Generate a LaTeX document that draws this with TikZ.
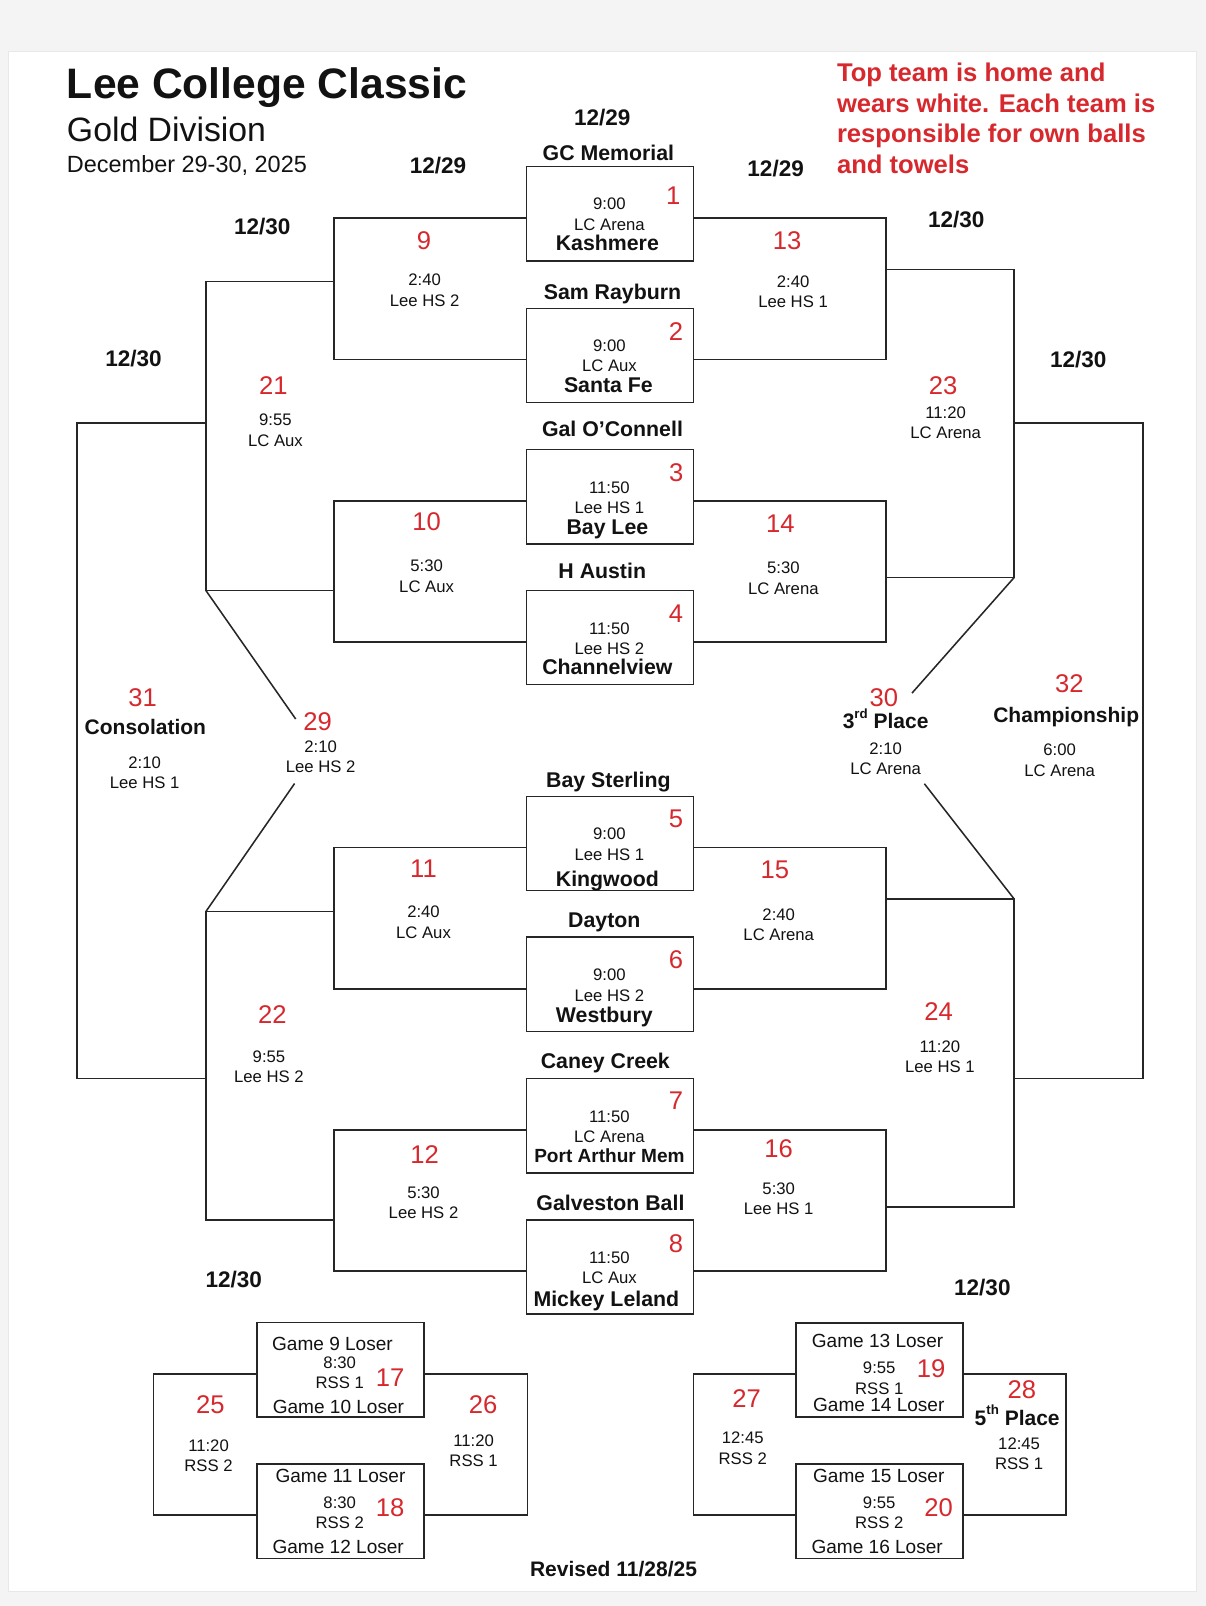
\documentclass[tikz,border=0pt]{standalone}
\usepackage{fontspec}
\setmainfont{Liberation Sans}
\definecolor{rd}{RGB}{214,40,45}
\definecolor{ln}{RGB}{38,38,38}
\definecolor{ink}{RGB}{18,18,18}
\definecolor{bgc}{RGB}{244,244,244}
\newcommand{\fs}[1]{\fontsize{#1}{#1}\selectfont}
\tikzset{
  tx/.style={inner sep=0pt,outer sep=0pt,text depth=0pt,text=ink},
  lbl/.style={tx,font=\fs{16.3},text height=11.67pt},
  team/.style={tx,font=\bfseries\fs{20.8},text height=14.9pt},
  teamsm/.style={tx,font=\bfseries\fs{18.6},text height=13.3pt},
  num/.style={tx,font=\fs{25},text height=17.9pt,text=rd},
  dlab/.style={tx,font=\bfseries\fs{22},text height=15.75pt},
  loser/.style={tx,font=\fs{18.6},text height=13.3pt},
  ttl/.style={tx,font=\bfseries\fs{20.5},text height=14.7pt},
  note/.style={inner sep=0pt,anchor=base west,font=\bfseries\fs{25},text=rd},
  gbox/.style={draw=ln,line width=1.5pt,minimum width=163pt,minimum height=92pt,inner sep=0pt},
  br/.style={draw=ln,line width=1.5pt,line join=miter},
}
\begin{document}
\begin{tikzpicture}[x=1pt,y=-1pt]
\path[use as bounding box,fill=bgc] (0,0) rectangle (1177,1568);
\fill[white] (8,50.4) rectangle (1168,1553.5);
\draw[gray!18,line width=0.6pt] (8,50.4) rectangle (1168,1553.5);

% Header
\node[tx,anchor=base west,font=\bfseries\fs{41.6}] (title) at (65.4,96.6) {Lee College Classic};
\node[tx,anchor=base west,font=\fs{33}] (div) at (65.4,138.3) {Gold Division};
\node[tx,anchor=base west,font=\fs{22.9}] (dates) at (65.4,168.5) {December 29-30, 2025};
\node[note] (n1) at (817,79.7) {Top team is home and};
\node[note] (n2) at (817,109.6) {wears white. Each team is};
\node[note] (n3) at (817,139.5) {responsible for own balls};
\node[note] (n4) at (817,169.4) {and towels};

% Date labels
\node[dlab] (d1) at (588,114.5) {12/29};
\node[dlab] (d2) at (427.7,162) {12/29};
\node[dlab] (d3) at (757.3,164.3) {12/29};
\node[dlab] (d4) at (256,221) {12/30};
\node[dlab] (d5) at (933.6,214.7) {12/30};
\node[dlab] (d6) at (130.4,349.8) {12/30};
\node[dlab] (d7) at (1052.8,350.7) {12/30};
\node[dlab] (d8) at (228.2,1249.3) {12/30};
\node[dlab] (d9) at (959.1,1257.4) {12/30};

% First-round boxes
\node[gbox] (b1) at (595.5,208.7) {};
\node[gbox] (b2) at (595.5,347) {};
\node[gbox] (b3) at (595.5,485) {};
\node[gbox] (b4) at (595.5,622.5) {};
\node[gbox] (b5) at (595.5,823.6) {};
\node[gbox] (b6) at (595.5,961) {};
\node[gbox] (b7) at (595.5,1099) {};
\node[gbox] (b8) at (595.5,1237) {};

% Team names above boxes
\node[team] (h1) at (594,149.6) {GC Memorial};
\node[team] (h2) at (598,284.7) {Sam Rayburn};
\node[team] (h3) at (598,419) {Gal O’Connell};
\node[team] (h4) at (588,557) {H Austin};
\node[team] (h5) at (594,761.3) {Bay Sterling};
\node[team] (h6) at (590,897.9) {Dayton};
\node[team] (h7) at (591,1036.2) {Caney Creek};
\node[team] (h8) at (596,1174.4) {Galveston Ball};

% Box contents
\node[lbl] (t1) at (595,199.1) {9:00};
\node[lbl] (v1) at (595,219.6) {LC Arena};
\node[team] (k1) at (593,237.5) {Kashmere};
\node[num] (m1) at (657.3,190.3) {1};
\node[lbl] (t2) at (595,337) {9:00};
\node[lbl] (v2) at (595,357) {LC Aux};
\node[team] (k2) at (594,376) {Santa Fe};
\node[num] (m2) at (659.9,323.7) {2};
\node[lbl] (t3) at (595,475.6) {11:50};
\node[lbl] (v3) at (595,495.1) {Lee HS 1};
\node[team] (k3) at (593,514) {Bay Lee};
\node[num] (m3) at (660.3,461) {3};
\node[lbl] (t4) at (595,613.2) {11:50};
\node[lbl] (v4) at (595,632.8) {Lee HS 2};
\node[team] (k4) at (593,650.7) {Channelview};
\node[num] (m4) at (660,598.6) {4};
\node[lbl] (t5) at (595,814) {9:00};
\node[lbl] (v5) at (595,834.5) {Lee HS 1};
\node[team] (k5) at (593,857.6) {Kingwood};
\node[num] (m5) at (659.9,798.7) {5};
\node[lbl] (t6) at (595,951.6) {9:00};
\node[lbl] (v6) at (595,971.8) {Lee HS 2};
\node[team] (k6) at (590,990.6) {Westbury};
\node[num] (m6) at (660,937) {6};
\node[lbl] (t7) at (595,1089.9) {11:50};
\node[lbl] (v7) at (595,1110) {LC Arena};
\node[teamsm] (k7) at (595,1128.3) {Port Arthur Mem};
\node[num] (m7) at (660,1074.2) {7};
\node[lbl] (t8) at (595,1228.1) {11:50};
\node[lbl] (v8) at (595,1247.6) {LC Aux};
\node[team] (k8) at (592,1268) {Mickey Leland};
\node[num] (m8) at (660,1213.5) {8};

% Bracket coordinates (left)
\coordinate (L9t) at (326,212.7);  \coordinate (L9b) at (326,351);
\coordinate (L10t) at (326,489);   \coordinate (L10b) at (326,627);
\coordinate (L11t) at (326,827.6); \coordinate (L11b) at (326,965.6);
\coordinate (L12t) at (326,1103);  \coordinate (L12b) at (326,1241);
\coordinate (L9m) at (326,275);    \coordinate (L10m) at (326,576.5);
\coordinate (L11m) at (326,890);   \coordinate (L12m) at (326,1191);
\coordinate (L21t) at (201,275);   \coordinate (L21b) at (201,576.5);
\coordinate (L22t) at (201,890);   \coordinate (L22b) at (201,1191);
\coordinate (L21m) at (201,413);   \coordinate (L22m) at (201,1053);
\coordinate (L31t) at (75,413);    \coordinate (L31b) at (75,1053);
\coordinate (L29a) at (288.7,702); \coordinate (L29b) at (287.6,765);
% (right)
\coordinate (R13t) at (865,212.7); \coordinate (R13b) at (865,351);
\coordinate (R14t) at (865,489);   \coordinate (R14b) at (865,627);
\coordinate (R15t) at (865,827.6); \coordinate (R15b) at (865,965.6);
\coordinate (R16t) at (865,1103);  \coordinate (R16b) at (865,1241);
\coordinate (R13m) at (865,263);   \coordinate (R14m) at (865,564);
\coordinate (R15m) at (865,877.5); \coordinate (R16m) at (865,1178.5);
\coordinate (R23t) at (990,263);   \coordinate (R23b) at (990,564);
\coordinate (R24t) at (990,877.5); \coordinate (R24b) at (990,1178.5);
\coordinate (R23m) at (990,413);   \coordinate (R24m) at (990,1053);
\coordinate (R32t) at (1116,413);  \coordinate (R32b) at (1116,1053);
\coordinate (R30a) at (890.4,676.7); \coordinate (R30b) at (902.5,765.2);

% Left brackets
\draw[br] (b1.west |- L9t) -- (L9t) -- (L9b) -- (b2.west |- L9b);
\draw[br] (b3.west |- L10t) -- (L10t) -- (L10b) -- (b4.west |- L10b);
\draw[br] (b5.west |- L11t) -- (L11t) -- (L11b) -- (b6.west |- L11b);
\draw[br] (b7.west |- L12t) -- (L12t) -- (L12b) -- (b8.west |- L12b);
\draw[br] (L9m) -- (L21t) -- (L21b) -- (L10m);
\draw[br] (L11m) -- (L22t) -- (L22b) -- (L12m);
\draw[br] (L21m) -- (L31t) -- (L31b) -- (L22m);
\draw[br] (L21b) -- (L29a);
\draw[br] (L22t) -- (L29b);
% Right brackets
\draw[br] (b1.east |- R13t) -- (R13t) -- (R13b) -- (b2.east |- R13b);
\draw[br] (b3.east |- R14t) -- (R14t) -- (R14b) -- (b4.east |- R14b);
\draw[br] (b5.east |- R15t) -- (R15t) -- (R15b) -- (b6.east |- R15b);
\draw[br] (b7.east |- R16t) -- (R16t) -- (R16b) -- (b8.east |- R16b);
\draw[br] (R13m) -- (R23t) -- (R23b) -- (R14m);
\draw[br] (R15m) -- (R24t) -- (R24b) -- (R16m);
\draw[br] (R23m) -- (R32t) -- (R32b) -- (R24m);
\draw[br] (R23b) -- (R30a);
\draw[br] (R24t) -- (R30b);

% Game labels
\node[num] (g9) at (413.9,234.9) {9};
\node[lbl] (g9t) at (414.6,273.3) {2:40};
\node[lbl] (g9v) at (414.6,293.5) {Lee HS 2};
\node[num] (g10) at (416.5,509.1) {10};
\node[lbl] (g10t) at (416.5,552.4) {5:30};
\node[lbl] (g10v) at (416.5,572.6) {LC Aux};
\node[num] (g11) at (413.5,847.5) {11};
\node[lbl] (g11t) at (413.5,890.4) {2:40};
\node[lbl] (g11v) at (413.5,910.3) {LC Aux};
\node[num] (g12) at (414.6,1127.3) {12};
\node[lbl] (g12t) at (413.5,1164.1) {5:30};
\node[lbl] (g12v) at (413.5,1184.2) {Lee HS 2};
\node[num] (g13) at (768.6,234.2) {13};
\node[lbl] (g13t) at (774.3,274.9) {2:40};
\node[lbl] (g13v) at (774.3,294.4) {Lee HS 1};
\node[num] (g14) at (761.8,510.8) {14};
\node[lbl] (g14t) at (764.8,554) {5:30};
\node[lbl] (g14v) at (764.8,574.2) {LC Arena};
\node[num] (g15) at (756.5,849.1) {15};
\node[lbl] (g15t) at (760.3,892.4) {2:40};
\node[lbl] (g15v) at (760.3,912.6) {LC Arena};
\node[num] (g16) at (760.3,1120.8) {16};
\node[lbl] (g16t) at (760.3,1160.5) {5:30};
\node[lbl] (g16v) at (760.3,1180.3) {Lee HS 1};
\node[num] (g21) at (267,375.8) {21};
\node[lbl] (g21t) at (268.9,409.9) {9:55};
\node[lbl] (g21v) at (268.9,430.1) {LC Aux};
\node[num] (g22) at (266,990.6) {22};
\node[lbl] (g22t) at (262.6,1031.3) {9:55};
\node[lbl] (g22v) at (262.6,1051.5) {Lee HS 2};
\node[num] (g23) at (920.7,376.5) {23};
\node[lbl] (g23t) at (923.3,402.4) {11:20};
\node[lbl] (g23v) at (923.3,422.3) {LC Arena};
\node[num] (g24) at (916.5,987.4) {24};
\node[lbl] (g24t) at (917.6,1021.5) {11:20};
\node[lbl] (g24v) at (917.6,1041.7) {Lee HS 1};
\node[num] (g29) at (310,704.3) {29};
\node[lbl] (g29t) at (313,728.7) {2:10};
\node[lbl] (g29v) at (313,748.3) {Lee HS 2};
\node[num] (g30) at (862.9,680.6) {30};
\node[ttl] (g30n) at (864.7,704.3) {3\raisebox{0.5em}{\fs{13}rd} Place};
\node[lbl] (g30t) at (864.7,730.4) {2:10};
\node[lbl] (g30v) at (864.7,750.5) {LC Arena};
\node[num] (g31) at (139.3,680.6) {31};
\node[ttl] (g31n) at (141.9,709.9) {Consolation};
\node[lbl] (g31t) at (141.2,744) {2:10};
\node[lbl] (g31v) at (141.2,763.9) {Lee HS 1};
\node[num] (g32) at (1044,666.9) {32};
\node[ttl] (g32n) at (1041,697.8) {Championship};
\node[lbl] (g32t) at (1034.6,732) {6:00};
\node[lbl] (g32v) at (1034.6,752.2) {LC Arena};

% Bottom consolation boxes
\node[gbox] (b17) at (332.3,1337.3) {};
\node[gbox] (b18) at (332.3,1475.5) {};
\node[gbox] (b19) at (858.8,1337.5) {};
\node[gbox] (b20) at (858.8,1475.4) {};
\coordinate (C25t) at (150,1341.7);  \coordinate (C25b) at (150,1479.3);
\coordinate (C26t) at (515,1341.7);  \coordinate (C26b) at (515,1479.3);
\coordinate (C27t) at (677,1341.7);  \coordinate (C27b) at (677,1479.3);
\coordinate (C28t) at (1041,1341.7); \coordinate (C28b) at (1041,1479.3);
\draw[br] (b17.west |- C25t) -- (C25t) -- (C25b) -- (b18.west |- C25b);
\draw[br] (b17.east |- C26t) -- (C26t) -- (C26b) -- (b18.east |- C26b);
\draw[br] (b19.west |- C27t) -- (C27t) -- (C27b) -- (b20.west |- C27b);
\draw[br] (b19.east |- C28t) -- (C28t) -- (C28b) -- (b20.east |- C28b);

\node[loser] (l17a) at (324.6,1312.1) {Game 9 Loser};
\node[lbl] (l17t) at (331.7,1330) {8:30};
\node[lbl] (l17v) at (331.7,1350.2) {RSS 1};
\node[num] (g17) at (381,1344.3) {17};
\node[loser] (l17b) at (330.4,1372.9) {Game 10 Loser};
\node[loser] (l18a) at (332.4,1441.2) {Game 11 Loser};
\node[lbl] (l18t) at (331.7,1466.6) {8:30};
\node[lbl] (l18v) at (331.7,1486.8) {RSS 2};
\node[num] (g18) at (381,1471.5) {18};
\node[loser] (l18b) at (330.2,1510.3) {Game 12 Loser};
\node[num] (g25) at (205.4,1370.6) {25};
\node[lbl] (g25t) at (203.6,1411.3) {11:20};
\node[lbl] (g25v) at (203.6,1430.8) {RSS 2};
\node[num] (g26) at (471.8,1370.6) {26};
\node[lbl] (g26t) at (462.4,1406.1) {11:20};
\node[lbl] (g26v) at (462.4,1425.6) {RSS 1};

\node[loser] (l19a) at (856.8,1309.4) {Game 13 Loser};
\node[lbl] (l19t) at (858.4,1335.5) {9:55};
\node[num] (g19) at (909,1335.5) {19};
\node[lbl] (l19v) at (858.4,1355.7) {RSS 1};
\node[loser] (l19b) at (858,1371.9) {Game 14 Loser};
\node[loser] (l20a) at (858,1441.2) {Game 15 Loser};
\node[lbl] (l20t) at (858.4,1466.6) {9:55};
\node[lbl] (l20v) at (858.4,1486.8) {RSS 2};
\node[num] (g20) at (916.5,1471.2) {20};
\node[loser] (l20b) at (856.4,1510.3) {Game 16 Loser};
\node[num] (g27) at (729,1364.8) {27};
\node[lbl] (g27t) at (725.2,1403.8) {12:45};
\node[lbl] (g27v) at (725.2,1424) {RSS 2};
\node[num] (g28) at (997.6,1356) {28};
\node[ttl] (g28n) at (993.1,1384.3) {5\raisebox{0.5em}{\fs{13}th} Place};
\node[lbl] (g28t) at (995,1409.3) {12:45};
\node[lbl] (g28v) at (995,1429.2) {RSS 1};

\node[ttl] (rev) at (599,1531.6) {Revised 11/28/25};
\end{tikzpicture}
\end{document}
